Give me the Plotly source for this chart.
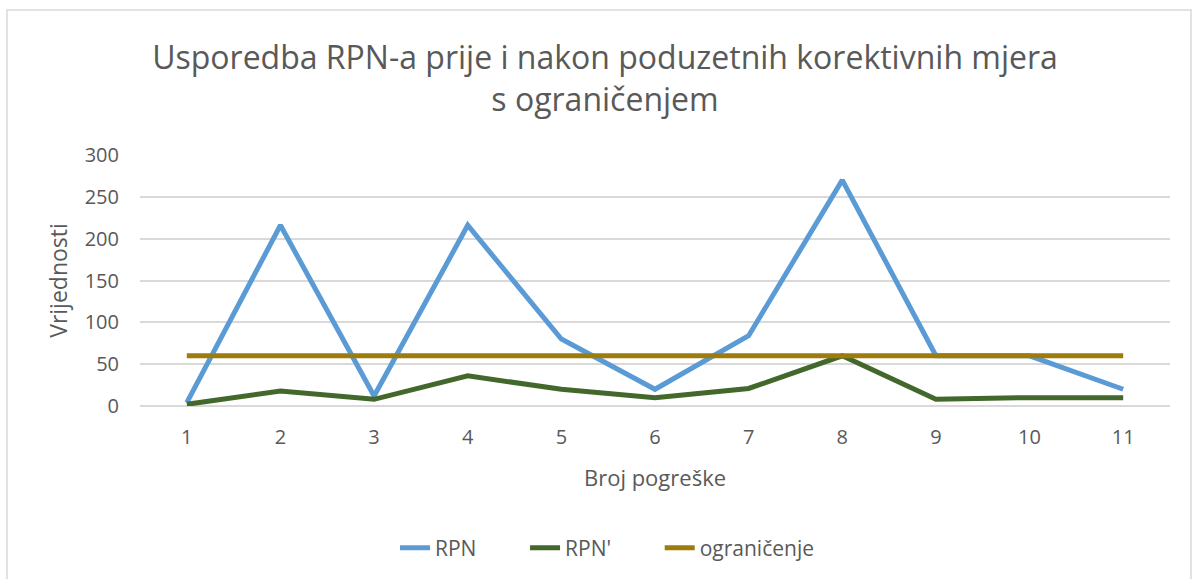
import plotly.graph_objects as go

categories = [1, 2, 3, 4, 5, 6, 7, 8, 9, 10, 11]
rpn = [4, 216, 12, 216, 80, 20, 84, 270, 60, 60, 20]
rpn_prime = [2, 18, 8, 36, 20, 10, 21, 60, 8, 10, 10]
limit = [60, 60, 60, 60, 60, 60, 60, 60, 60, 60, 60]
y_ticks = [0, 50, 100, 150, 200, 250, 300]

FONT = "Open Sans, Liberation Sans, sans-serif"
GREY = "#595959"
PAD = "\u00a0" * 8

fig = go.Figure()
fig.add_trace(go.Scatter(x=categories, y=rpn, mode="lines", name="RPN" + PAD,
                         line=dict(color="#5B9BD5", width=5)))
fig.add_trace(go.Scatter(x=categories, y=rpn_prime, mode="lines", name="RPN'" + PAD,
                         line=dict(color="#43682B", width=5)))
fig.add_trace(go.Scatter(x=categories, y=limit, mode="lines", name="ograničenje",
                         line=dict(color="#9E7C0C", width=5)))

L, R, T, B = 140, 22, 155, 173
W, H = 1192, 579
pw = W - L - R
ph = H - T - B

def px_to_paper_x(px):
    return (px - L) / pw

def py_to_paper_y(py):
    return (H - B - py) / ph

fig.update_layout(
    width=W, height=H,
    margin=dict(l=L, r=R, t=T, b=B),
    paper_bgcolor="white", plot_bgcolor="white",
    font=dict(family=FONT, color=GREY, size=18),
    title=dict(text="Usporedba RPN-a prije i nakon poduzetnih korektivnih mjera<br>s ograničenjem",
               x=605 / W, xanchor="center", y=1 - 69 / H, yanchor="top",
               font=dict(size=32, color=GREY, family=FONT)),
    xaxis=dict(range=[0.5, 11.5], tickmode="array", tickvals=categories,
               ticktext=[str(c) for c in categories], showgrid=False,
               zeroline=False, showline=False, ticks="", ticklabelstandoff=17,
               tickfont=dict(size=20, color=GREY),
               title=dict(text="Broj pogreške", font=dict(size=22, color=GREY), standoff=21)),
    yaxis=dict(range=[0, 300], tickmode="array", tickvals=y_ticks,
               showgrid=True, gridcolor="#D9D9D9", gridwidth=1.5,
               zeroline=True, zerolinecolor="#D9D9D9", zerolinewidth=1.5,
               showline=False, ticks="", ticklabelstandoff=20,
               tickfont=dict(size=20, color=GREY),
               title=dict(text="Vrijednosti", font=dict(size=23, color=GREY), standoff=10)),
    legend=dict(orientation="h", x=607 / W, xref="container", xanchor="center",
                y=1 - 548 / H, yref="container", yanchor="middle",
                font=dict(size=21, color=GREY)),
    showlegend=True,
)

fig.add_shape(type="rect", xref="paper", yref="paper",
              x0=px_to_paper_x(7), x1=px_to_paper_x(1191),
              y0=py_to_paper_y(600), y1=py_to_paper_y(10),
              line=dict(color="#D9D9D9", width=1.5), fillcolor="rgba(0,0,0,0)",
              layer="below")

fig.write_html("out.html", config={"displayModeBar": False},
               post_script="document.body.style.margin='0';")
